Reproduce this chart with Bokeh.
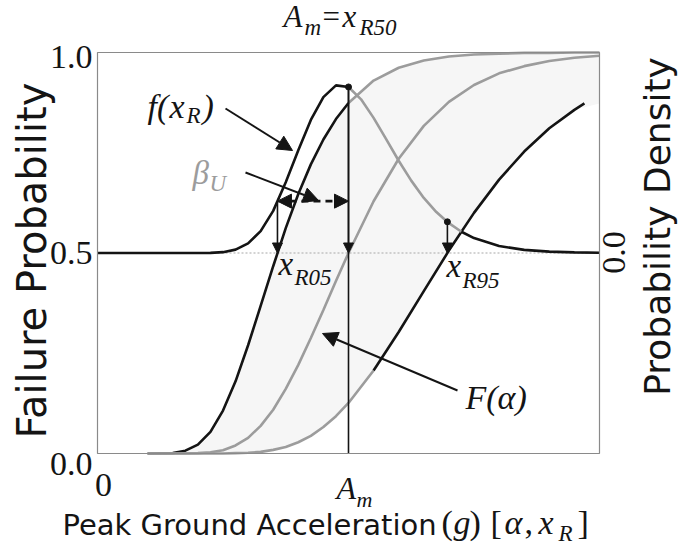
import numpy as np
from bokeh.plotting import figure
from bokeh.models import Range1d, Label, Arrow, NormalHead, BoxAnnotation
from bokeh.embed import file_html
from bokeh.resources import INLINE

# Fragility curves (failure probability) against peak ground acceleration,
# acceleration expressed in units of the median capacity Am.
cdf_x = [0.20, 0.30, 0.35, 0.40, 0.45, 0.50, 0.55, 0.60, 0.65, 0.70, 0.75, 0.80, 0.85,
         0.90, 0.95, 1.00, 1.10, 1.20, 1.30, 1.40, 1.50, 1.60, 1.70, 1.80, 1.90, 2.00]
fragility_05 = [0.000, 0.001, 0.007, 0.022, 0.054, 0.107, 0.180, 0.270, 0.368, 0.467, 0.562, 0.647, 0.721,
                0.783, 0.834, 0.874, 0.930, 0.962, 0.980, 0.990, 0.995, 0.997, 0.999, 0.999, 1.000, 1.000]
fragility_50 = [0.000, 0.000, 0.000, 0.001, 0.003, 0.008, 0.020, 0.039, 0.069, 0.109, 0.161, 0.221, 0.288,
                0.358, 0.430, 0.500, 0.629, 0.735, 0.817, 0.877, 0.919, 0.948, 0.966, 0.979, 0.987, 0.992]
fragility_95_x = [0.20, 0.30, 0.35, 0.40, 0.45, 0.50, 0.55, 0.60, 0.65, 0.70, 0.75, 0.80, 0.85,
                  0.90, 0.95, 1.00, 1.10, 1.20, 1.30, 1.40, 1.50, 1.60, 1.70, 1.80, 1.90, 1.94]
fragility_95 = [0.000, 0.000, 0.000, 0.000, 0.000, 0.000, 0.001, 0.002, 0.004, 0.009, 0.016, 0.028, 0.044,
                0.066, 0.093, 0.126, 0.207, 0.303, 0.405, 0.506, 0.600, 0.683, 0.753, 0.811, 0.857, 0.873]

# Probability density of the median capacity x_R
density_x = [0.00, 0.30, 0.40, 0.45, 0.50, 0.55, 0.60, 0.65, 0.70, 0.75, 0.80, 0.85, 0.90, 0.95, 1.00,
             1.05, 1.10, 1.15, 1.20, 1.25, 1.30, 1.35, 1.40, 1.45, 1.50, 1.60, 1.70, 1.80, 1.90, 2.00]
density_f = [0.000, 0.000, 0.000, 0.002, 0.010, 0.040, 0.115, 0.260, 0.500, 0.840, 1.220, 1.580, 1.850, 1.990, 1.971,
             1.824, 1.604, 1.351, 1.095, 0.859, 0.654, 0.486, 0.354, 0.252, 0.177, 0.083, 0.037, 0.016, 0.007, 0.003]

# x_R05, x_R50 (= Am), x_R95
quantile_x = [0.717, 1.0, 1.394]

x_ticks = [0.0, 1.0]
y_ticks = [0.0, 0.5, 1.0]
y_tick_labels = ["0.0", "0.5", "1.0"]

DARK = "#141414"
GRAY = "#9c9c9c"
FILL = "#f6f6f6"
SERIF = "Liberation Serif"
SANS = "DejaVu Sans"

W, H = 687, 552
L, R, T, B = 97, 599, 52, 453          # plot box in pixels
X_MAX = 2.0
DENS_HALF = 2.38                          # density axis: -2.38..2.38 over the box, zero at mid-height

sx = X_MAX / (R - L)                       # data units per pixel
sy = 1.0 / (B - T)
x_lo, x_hi = -L * sx, (W - L) * sx
y_lo, y_hi = -(H - B) * sy, B * sy
k = 2 * DENS_HALF

p = figure(width=W, height=H, output_backend="svg", toolbar_location=None,
           x_range=Range1d(x_lo, x_hi), y_range=Range1d(y_lo, y_hi),
           x_axis_location=None, y_axis_location=None,
           min_border=0, min_border_left=0, min_border_right=0, min_border_top=0, min_border_bottom=0)
p.extra_y_ranges = {"dens": Range1d((y_lo - 0.5) * k, (y_hi - 0.5) * k)}
p.grid.visible = False
p.outline_line_color = None
p.background_fill_color = "white"
p.border_fill_color = "white"


def to_data(px, py):
    return (px - L) * sx, (B - py) * sy


def put(text, px, base, size, italic=False, color=DARK, font=SERIF, align="left", angle=0.0):
    """Place text whose baseline sits at pixel row `base` (horizontal text)."""
    x, y = to_data(px, base - 0.34 * size)
    p.add_layout(Label(x=x, y=y, text=text, text_font=font, text_font_size=f"{size}px",
                       text_font_style="italic" if italic else "normal", text_color=color,
                       text_align=align, text_baseline="middle", angle=angle))


def put_center(text, px, py, size, font=SERIF, align="center", angle=0.0):
    x, y = to_data(px, py)
    p.add_layout(Label(x=x, y=y, text=text, text_font=font, text_font_size=f"{size}px",
                       text_color=DARK, text_align=align, text_baseline="middle", angle=angle))


def pointer(px0, py0, px1, py1):
    x0, y0 = to_data(px0, py0)
    x1, y1 = to_data(px1, py1)
    p.add_layout(Arrow(x_start=x0, y_start=y0, x_end=x1, y_end=y1, line_color=DARK, line_width=2,
                       end=NormalHead(size=15, fill_color=DARK, line_color=DARK)))


cx = np.array(cdf_x)
f05 = np.array(fragility_05)
f50 = np.array(fragility_50)
c95x = np.array(fragility_95_x)
f95 = np.array(fragility_95)
dx = np.array(density_x)
df = np.array(density_f)

# shaded band between the 5% and 95% fragility curves
p.varea(x=cx, y1=np.interp(cx, c95x, f95), y2=f05, fill_color=FILL)

# dotted zero line of the density axis, across the plot box
p.segment(x0=[0], y0=[0], x1=[X_MAX], y1=[0], y_range_name="dens",
          line_color="#a8a8a8", line_width=1.2, line_dash="2 2")

# fragility curves, two-tone
am = quantile_x[1]
p.line(cx[cx <= am], f05[cx <= am], line_color=DARK, line_width=2.6)
p.line(cx[cx >= am], f05[cx >= am], line_color=GRAY, line_width=2.6)
p.line(cx, f50, line_color=GRAY, line_width=2.6)
split95 = 1.1
p.line(c95x[c95x <= split95], f95[c95x <= split95], line_color=GRAY, line_width=2.6)
p.line(c95x[c95x >= split95], f95[c95x >= split95], line_color=DARK, line_width=2.6)

# density curve, two-tone
split_d = 1.45
p.line(dx[dx <= am], df[dx <= am], y_range_name="dens", line_color=DARK, line_width=2.6)
mid = (dx >= am) & (dx <= split_d)
p.line(dx[mid], df[mid], y_range_name="dens", line_color=GRAY, line_width=2.6)
p.line(dx[dx >= split_d], df[dx >= split_d], y_range_name="dens", line_color=DARK, line_width=2.6)

# quantile markers: vertical arrows from the density down to its zero line
tops = np.interp(quantile_x, dx, df)
p.segment(x0=[am], y0=[-DENS_HALF], x1=[am], y1=[tops[1]], y_range_name="dens",
          line_color=DARK, line_width=1.6)
for qx, top in zip(quantile_x, tops):
    p.add_layout(Arrow(x_start=qx, y_start=top, x_end=qx, y_end=0, y_range_name="dens",
                       line_color=DARK, line_width=1.6,
                       end=NormalHead(size=10, fill_color=DARK, line_color=DARK)))
p.scatter(x=quantile_x[1:], y=tops[1:], y_range_name="dens", size=6, color=DARK)

# beta_U span between x_R05 and x_R50
p.add_layout(Arrow(x_start=quantile_x[0], y_start=tops[0], x_end=am, y_end=tops[0],
                   y_range_name="dens", line_color=DARK, line_width=2.6, line_dash="7 5",
                   start=NormalHead(size=14, fill_color=DARK, line_color=DARK),
                   end=NormalHead(size=14, fill_color=DARK, line_color=DARK)))

# plot box
p.add_layout(BoxAnnotation(left=0, right=X_MAX, bottom=0, top=1, fill_alpha=0,
                           line_color="#8a8a8a", line_width=1.2, line_alpha=1))

# annotation pointers
pointer(225, 108, 292, 150)
pointer(245, 172, 318, 200)
pointer(457, 390, 322, 333)

# title
put("A", 283, 27, 31, italic=True)
put("m", 304, 35, 23, italic=True)
put("=", 322, 27, 31)
put("x", 342, 27, 31, italic=True)
put("R50", 359, 35, 23, italic=True)

# curve labels
put("f(", 147, 118, 34, italic=True)
put("x", 169, 118, 34, italic=True)
put("R", 186, 123, 23, italic=True)
put(")", 202, 118, 34, italic=True)
put("\u03b2", 192, 184, 33, italic=True, color=GRAY)
put("U", 209, 191, 23, italic=True, color=GRAY)
put("x", 278, 275, 33, italic=True)
put("R05", 294, 285, 23, italic=True)
put("x", 446, 277, 33, italic=True)
put("R95", 462, 288, 23, italic=True)
put("F(\u03b1)", 465, 409, 34, italic=True)

# left tick labels
for v, t in zip(y_ticks, y_tick_labels):
    ypx = B - v * (B - T)
    ypx += {0.0: 10, 0.5: 0, 1.0: 4}[v]
    put_center(t, 92, ypx, 34, align="right")

# bottom tick labels
put_center("0", L + x_ticks[0] / sx + 6, 484, 34)
am_px = L + x_ticks[1] / sx
put("A", am_px - 12, 498, 32, italic=True)
put("m", am_px + 8, 506, 22, italic=True)

# axis titles
put("Peak Ground Acceleration", 62, 534, 29, font=SANS)
put("(", 441, 534, 34)
put("g", 453, 534, 34, italic=True)
put(")", 469, 534, 34)
put("[", 490, 534, 34)
put("\u03b1", 504, 534, 34, italic=True)
put(",", 524, 534, 34)
put("x", 538, 534, 34, italic=True)
put("R", 558, 541, 23, italic=True)
put("]", 577, 534, 34)
put_center("Failure Probability", 31, 260, 40, font=SANS, angle=np.pi / 2)
put_center("Probability Density", 657, 226, 36, font=SANS, angle=np.pi / 2)
put_center("0.0", 613, 252, 34, angle=np.pi / 2)

open("out.html", "w").write(file_html(p, INLINE))
